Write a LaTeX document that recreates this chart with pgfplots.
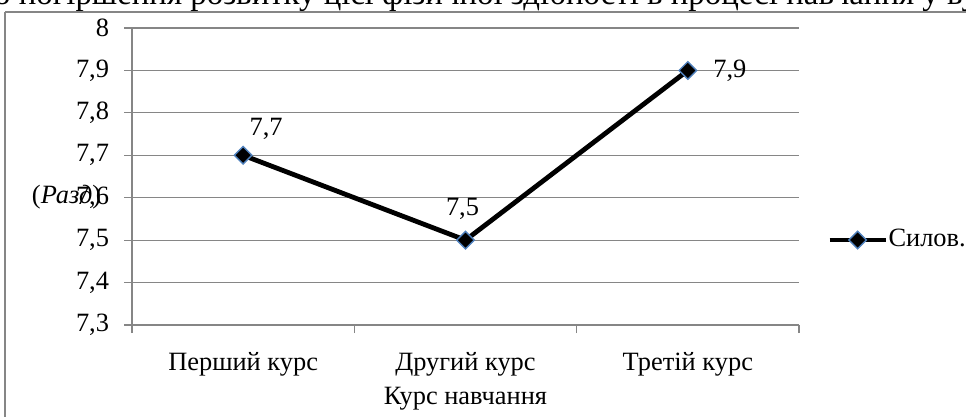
\documentclass[border=0pt]{standalone}
\usepackage{fontspec}
\setmainfont{Liberation Serif}
\usepackage{pgfplots}
\pgfplotsset{compat=1.18}
\definecolor{gridgray}{HTML}{868686}
\definecolor{mblue}{HTML}{4F81BD}
\begin{document}
\fontsize{26.5}{30}\selectfont
\begin{tikzpicture}[x=1bp,y=1bp]
\path[use as bounding box] (0,0) rectangle (966,416);
\clip (0,0) rectangle (966,416);
\node[anchor=base west, inner sep=0, font=\fontsize{33}{38}\selectfont] at (-6,411) {о погіршення розвитку цієї фізичної здібності в процесі навчання у вузі};
\draw[gridgray, line width=1.2bp] (5,404) -- (1100,404);
\draw[gridgray, line width=1.2bp] (5,404) -- (5,-50);
\begin{axis}[
  at={(132bp,91bp)}, anchor=south west, scale only axis,
  width=667bp, height=297bp,
  xmin=0.5, xmax=3.5, ymin=7.3, ymax=8,
  xtick={0.5,1.5,2.5,3.5}, xticklabels={},
  extra x ticks={1,2,3},
  extra x tick labels={Перший курс,Другий курс,Третій курс},
  extra x tick style={major tick length=0pt},
  ytick={7.3,7.4,7.5,7.6,7.7,7.8,7.9,8},
  ymajorgrids, grid style={gridgray, line width=1.2bp},
  axis x line*=bottom, axis y line*=left,
  axis line style={gridgray, line width=1.2bp},
  tick style={gridgray, line width=1.2bp},
  tick align=outside, major tick length=8bp,
  /pgf/number format/use comma,
  /pgf/number format/assume math mode=true,
  yticklabel style={xshift=-6bp},
  xticklabel style={yshift=-18bp},
  xlabel={Курс навчання},
  xlabel style={yshift=14bp},
  ylabel={(\textit{Разд})},
  ylabel style={rotate=-90, at={(axis description cs:0,0.43)}, anchor=west, xshift=-109bp},
  legend style={at={(axis description cs:1.042,0.286)}, anchor=west, draw=none, fill=none, inner sep=0pt,
    legend cell align=left, /tikz/every even column/.append style={column sep=0pt},
    nodes={inner xsep=0.5bp}},
  legend image code/.code={\draw[mark repeat=2,mark phase=2,#1] plot coordinates {(0bp,0bp) (28bp,0bp) (56bp,0bp)};},
]
\addplot[black, line width=4.8bp, mark=square*, mark size=6.2bp,
  mark options={rotate=45, fill=black, draw=mblue, line width=1.4bp, solid}]
  coordinates {(1,7.7) (2,7.5) (3,7.9)};
\addlegendentry{Силов.}
\node at (axis cs:1,7.7) [xshift=23bp, yshift=26bp] {7,7};
\node at (axis cs:2,7.5) [xshift=-3bp, yshift=31bp] {7,5};
\node at (axis cs:3,7.9) [xshift=42bp, yshift=0bp] {7,9};
\end{axis}
\end{tikzpicture}
\end{document}
